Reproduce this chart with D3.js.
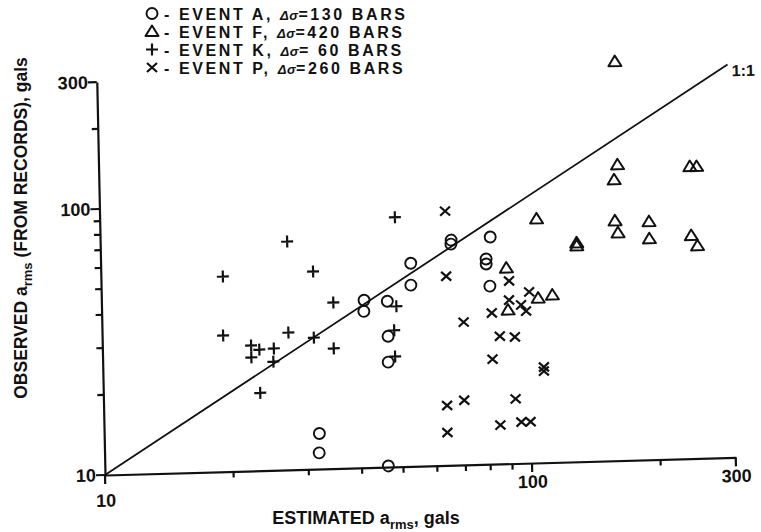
<!DOCTYPE html>
<html>
<head>
<meta charset="utf-8">
<script src="https://cdn.jsdelivr.net/npm/d3@7/dist/d3.min.js"></script>
<style>
  body { margin: 0; background: #fff; }
  text { font-family: 'Liberation Sans', Arial, sans-serif; font-weight: bold; fill: #111; }
</style>
</head>
<body>
<div id="chart"></div>
<script>
// [estimated a_rms, observed a_rms] in gals
const eventA = [[66.3, 70.2], [66.2, 67.8], [81.9, 71.4], [79.9, 59.1], [79.9, 56.6], [81.3, 46.7],
  [53.2, 58.0], [53.1, 48.0], [41.2, 42.6], [41.1, 38.7], [46.7, 42.0], [46.7, 31.0],
  [46.6, 24.8], [31.9, 13.6], [31.8, 11.5], [46.1, 10.1]];
const eventF = [[163.5, 316], [163.9, 129.4], [160.7, 113.7], [242, 125.2], [251, 125],
  [105.3, 82.6], [130.4, 66.5], [130.4, 64.8], [160.7, 79.7], [163.1, 71.8], [193, 78.5],
  [193, 67.7], [242, 68.9], [250, 63.0], [89.0, 54.4], [113.7, 42.6], [105.3, 41.6], [89.4, 37.8]];
const eventK = [[19.3, 54.1], [27.4, 72.1], [31.4, 55.3], [34.9, 42.1], [19.2, 32.5], [27.3, 32.8],
  [31.3, 31.2], [34.8, 28.3], [22.3, 29.6], [23.3, 28.5], [25.2, 28.7], [22.3, 26.7],
  [25.1, 25.6], [23.3, 19.6], [49.0, 40.1], [48.3, 32.6], [48.4, 26.0], [49.1, 86.7]];
const eventP = [[64.4, 90.3], [64.3, 51.4], [70.3, 34.4], [81.9, 37.0], [90.2, 48.6], [90.0, 41.2],
  [96.0, 39.4], [100.4, 44.0], [98.5, 37.3], [85.3, 30.2], [92.5, 29.9], [81.8, 24.8],
  [107.8, 22.9], [107.7, 22.1], [63.7, 16.8], [69.9, 17.5], [63.6, 13.3], [92.2, 17.5],
  [84.7, 14.0], [94.9, 14.3], [99.7, 14.3]];

const xTicks = [10, 20, 30, 40, 50, 60, 70, 80, 90, 100, 200, 300];
const yTicks = [10, 20, 30, 40, 50, 60, 70, 80, 90, 100, 200, 300];
const tickLabels = { 10: '10', 100: '100', 300: '300' };

const legendSymbols = ['circle', 'triangle', 'plus', 'cross'];
const legendEvents = ['EVENT A, ', 'EVENT F, ', 'EVENT K, ', 'EVENT P, '];
const legendStress = ['=130 BARS', '=420 BARS', '= 60 BARS', '=260 BARS'];

const W = 761, H = 532;
const ink = '#111';

const x = d3.scaleLog().domain([10, 300]).range([105, 736]);
const y = d3.scaleLog().domain([10, 300]).range([475, 82]);
const isMajor = v => v === 10 || v === 100 || v === 300;

const svg = d3.select('#chart').append('svg')
  .attr('width', W).attr('height', H)
  .attr('role', 'img')
  .attr('aria-label', 'Observed versus estimated rms acceleration, log-log scatter with 1:1 line');

// the scanned figure sits slightly askew: x axis climbs ~1.6 deg, y axis leans ~1.2 deg
const ox = x(10), oy = y(10);
const ra = 1.6 * Math.PI / 180, rb = 1.2 * Math.PI / 180;
const m = [Math.cos(ra), -Math.sin(ra), Math.sin(rb), Math.cos(rb)];
const g = svg.append('g').attr('transform',
  `matrix(${m[0]},${m[1]},${m[2]},${m[3]},${ox - (m[0] * ox + m[2] * oy)},${oy - (m[1] * ox + m[3] * oy)})`);

// Axes (labels + domain from d3, tick marks drawn as plain lines)
const xAxis = g.append('g').attr('transform', `translate(0,${oy})`)
  .call(d3.axisBottom(x).tickValues(xTicks).tickFormat(v => tickLabels[v] || '').tickSizeOuter(0));
xAxis.select('.domain').attr('stroke', ink).attr('stroke-width', 2.2);
xAxis.selectAll('.tick line').remove();
xAxis.selectAll('.tick text').attr('y', v => v === 10 ? 19 : 12)
  .attr('font-size', '18px').attr('font-family', null).attr('fill', ink);

const yAxis = g.append('g').attr('transform', `translate(${ox},0)`)
  .call(d3.axisLeft(y).tickValues(yTicks).tickFormat(v => tickLabels[v] || '').tickSizeOuter(0));
yAxis.select('.domain').attr('stroke', ink).attr('stroke-width', 2.2);
yAxis.selectAll('.tick line').remove();
yAxis.selectAll('.tick text').attr('x', -9)
  .attr('font-size', '18px').attr('font-family', null).attr('fill', ink);

g.append('g').selectAll('line').data(xTicks).enter().append('line')
  .attr('x1', d => x(d)).attr('x2', d => x(d))
  .attr('y1', oy).attr('y2', d => oy + (isMajor(d) ? 9 : 6))
  .attr('stroke', ink).attr('stroke-width', 2.2);
g.append('g').selectAll('line').data(yTicks).enter().append('line')
  .attr('y1', d => y(d)).attr('y2', d => y(d))
  .attr('x1', ox).attr('x2', d => ox - (isMajor(d) ? 9 : 6))
  .attr('stroke', ink).attr('stroke-width', 2.2);

// 1:1 line
g.append('line')
  .attr('x1', x(10)).attr('y1', y(10))
  .attr('x2', x(300)).attr('y2', y(300))
  .attr('stroke', ink).attr('stroke-width', 1.8);
g.append('text').attr('x', x(300) + 4).attr('y', y(300) + 12)
  .attr('font-size', '16px').text('1:1');

// Markers
function drawSymbol(sel, kind) {
  if (kind === 'circle') {
    sel.append('circle').attr('r', 5.5).attr('fill', 'none').attr('stroke', ink).attr('stroke-width', 1.9);
  } else if (kind === 'triangle') {
    sel.append('path').attr('d', 'M0,-6L6.5,4.5L-6.5,4.5Z').attr('fill', 'none')
      .attr('stroke', ink).attr('stroke-width', 2).attr('stroke-linejoin', 'round');
  } else if (kind === 'plus') {
    sel.append('path').attr('d', 'M-6,0H6M0,-6V6').attr('stroke', ink).attr('stroke-width', 2.2);
  } else {
    sel.append('path').attr('d', 'M-5,-4.5L5,4.5M-5,4.5L5,-4.5').attr('stroke', ink).attr('stroke-width', 2.2);
  }
}

[[eventA, 'circle'], [eventF, 'triangle'], [eventK, 'plus'], [eventP, 'cross']].forEach(([data, kind]) => {
  g.append('g').selectAll('g').data(data).enter().append('g')
    .attr('transform', d => `translate(${x(d[0])},${y(d[1])})`)
    .each(function () { drawSymbol(d3.select(this), kind); });
});

// Legend
const rowY = i => 13.5 + i * 18;
legendSymbols.forEach((kind, i) => {
  const row = svg.append('g').attr('transform', `translate(152,${rowY(i)})`);
  drawSymbol(row, kind);
  const t = row.append('text').attr('x', 12).attr('y', 6)
    .attr('font-size', '16px').attr('letter-spacing', '2.6px');
  t.append('tspan').text('- ' + legendEvents[i]);
  t.append('tspan').attr('font-size', '13px').attr('font-style', 'italic').attr('letter-spacing', '0.5px').text('Δσ');
  t.append('tspan').text(legendStress[i]);
});

// Axis titles
const xt = svg.append('text').attr('x', 366).attr('y', 524)
  .attr('text-anchor', 'middle').attr('font-size', '18px');
xt.append('tspan').text('ESTIMATED a');
xt.append('tspan').attr('font-size', '13px').attr('dy', 5).text('rms');
xt.append('tspan').attr('dy', -5).text(', gals');

const yt = svg.append('text').attr('transform', 'translate(27,228) rotate(-90)')
  .attr('text-anchor', 'middle').attr('font-size', '17.5px');
yt.append('tspan').text('OBSERVED a');
yt.append('tspan').attr('font-size', '13px').attr('dy', 5).text('rms');
yt.append('tspan').attr('dy', -5).text(' (FROM RECORDS), gals');
</script>
</body>
</html>
